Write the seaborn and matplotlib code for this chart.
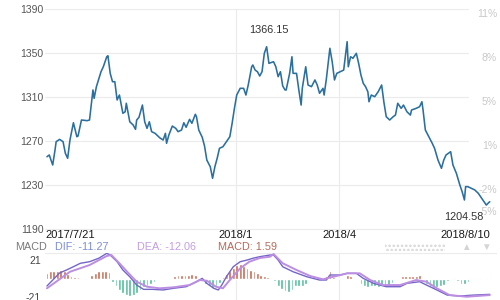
import numpy as np
import pandas as pd
import matplotlib
matplotlib.use("Agg")
import matplotlib.pyplot as plt
import seaborn as sns
from matplotlib.transforms import blended_transform_factory
from matplotlib.patches import Rectangle

# ---------------- data ----------------
start_date = "2017-07-21"

price_day = [0, 2, 5, 7, 8, 11, 14, 16, 18, 20, 23, 26, 27, 30, 35, 37, 40, 41, 43, 47,
             49, 52, 53, 55, 57, 59, 61, 63, 66, 68, 69, 72, 75, 77, 78, 80, 83, 85, 87, 89,
             91, 94, 97, 98, 101, 103, 104, 106, 109, 112, 114, 117, 119, 121, 124, 126, 129, 130, 132, 135,
             137, 139, 142, 144, 146, 148, 150, 153, 156, 159, 161, 163, 165, 168, 171, 173, 175, 178, 179, 181,
             183, 185, 187, 189, 191, 193, 197, 199, 201, 203, 205, 207, 208, 211, 213, 214, 217, 219, 221, 222,
             225, 227, 230, 233, 235, 237, 240, 241, 243, 246, 248, 250, 252, 255, 258, 260, 261, 262, 264, 266,
             269, 271, 273, 275, 277, 279, 280, 282, 285, 288, 291, 293, 295, 298, 301, 303, 305, 308, 310, 313,
             316, 317, 321, 324, 326, 327, 329, 332, 335, 337, 340, 343, 345, 347, 349, 351, 353, 356, 359, 361,
             363, 364, 366, 369, 372, 375, 378, 380, 382, 384, 385]
price = [1255.7, 1257.3, 1248.2, 1261.8, 1269.4, 1271.5, 1269.4, 1258.8, 1254.3, 1270.9,
         1286.6, 1273.9, 1274.5, 1289.1, 1288.5, 1289.1, 1316.4, 1308.8, 1319.4, 1333.0,
         1337.5, 1346.6, 1347.5, 1331.5, 1323.9, 1323.9, 1307.3, 1311.8, 1295.2, 1296.6,
         1304.3, 1287.5, 1284.5, 1280.6, 1289.1, 1291.5, 1302.7, 1287.5, 1281.5, 1287.5,
         1278.5, 1277.0, 1273.9, 1273.0, 1270.9, 1277.0, 1267.9, 1275.5, 1283.6, 1281.5,
         1278.5, 1280.0, 1286.6, 1282.5, 1289.7, 1286.1, 1294.3, 1292.1, 1280.0, 1273.4,
         1265.5, 1252.7, 1246.6, 1236.1, 1246.6, 1254.3, 1263.4, 1264.8, 1269.4, 1273.9,
         1286.1, 1299.7, 1311.8, 1317.9, 1317.9, 1311.8, 1320.9, 1337.5, 1339.1, 1334.5,
         1333.0, 1329.1, 1333.0, 1349.7, 1355.7, 1340.6, 1342.1, 1337.5, 1328.5, 1333.0,
         1320.0, 1316.4, 1316.4, 1331.5, 1346.6, 1331.5, 1331.5, 1316.4, 1302.7, 1317.9,
         1337.5, 1320.9, 1319.4, 1325.5, 1320.9, 1313.4, 1317.9, 1311.8, 1327.0, 1354.3,
         1342.1, 1325.5, 1331.5, 1333.0, 1334.5, 1351.2, 1360.3, 1337.5, 1346.6, 1345.2,
         1349.7, 1340.6, 1330.0, 1322.5, 1319.4, 1314.8, 1305.7, 1311.8, 1310.3, 1314.8,
         1320.9, 1305.0, 1292.1, 1289.1, 1292.1, 1293.6, 1304.3, 1299.7, 1302.7, 1296.6,
         1293.6, 1298.2, 1299.7, 1301.2, 1305.7, 1298.2, 1280.0, 1273.9, 1267.9, 1263.4,
         1252.7, 1245.2, 1252.7, 1257.3, 1258.8, 1260.3, 1248.2, 1240.6, 1230.0, 1223.9,
         1216.4, 1228.5, 1228.5, 1227.0, 1225.5, 1222.5, 1217.9, 1214.8, 1211.8, 1213.9, 1214.8]

dif_day = [0, 11, 17, 23, 29, 37, 45, 52, 55, 61, 66, 72, 78, 84, 92, 101, 110, 121, 130, 135,
           139, 145, 149, 152, 156, 162, 168, 174, 179, 185, 194, 197, 201, 205, 214, 226, 237, 243, 246, 255,
           261, 269, 275, 284, 295, 307, 313, 324, 330, 339, 348, 359, 371, 385]
dif = [-8.5, 6.3, 9.7, 13.4, 17.3, 19.1, 23.0, 28.6, 26.7, 19.1, 9.7, 2.0, -7.4, -12.3, -12.3, -13.0,
       -11.1, -9.3, -3.6, 0.2, -5.5, -11.1, -13.0, -7.4, 2.0, 13.4, 19.1, 21.0, 23.0, 24.8, 26.7, 26.7,
       21.0, 13.4, 7.7, 2.0, -1.7, -1.7, 4.0, 4.0, 5.9, 5.9, 0.2, -5.5, -9.3, -9.3, -5.5, -3.6, -7.4,
       -13.0, -18.8, -19.9, -18.8, -18.0]

dea_day = [0, 20, 37, 52, 56, 63, 71, 78, 87, 98, 110, 124, 133, 139, 147, 153, 159, 168, 176, 185,
           194, 197, 205, 217, 229, 240, 249, 261, 272, 281, 292, 307, 321, 330, 339, 350, 365, 385]
dea = [-11.1, 7.7, 15.3, 25.6, 26.7, 17.3, 5.9, -3.6, -9.3, -11.1, -10.0, -7.4, -1.7, -2.5, -9.3,
       -11.1, -1.7, 11.6, 19.1, 23.3, 24.8, 27.8, 17.3, 9.7, 2.8, -0.9, 2.0, 5.9, 5.9, -1.7, -7.4,
       -7.4, -1.7, -3.6, -11.1, -18.8, -20.7, -18.8]

hist = [6, 8, 9, 8, 10, 9, 5, 3, 2, 2, 1, 1, 1, 4, 6, 8, 8, 9, 7,
        -4, -9, -13, -16, -19, -20, -19, -17, -13, -10, -8, -6, -4, -2, -1, -1, -1, 0,
        3, 4, 4, 4, 4, 5, 4, 1, -2, -6, -9, -11, -9, -5,
        2, 5, 9, 12, 15, 16, 14, 12, 10, 8, 6, 4, 3, 2, 1,
        -3, -8, -12, -14, -15, -13, -9, -8, -9, -6, -2, -1, -1, 0, 0,
        3, 8, 2, 1, 1, 1, 4, 3, 1,
        -2, -6, -9, -10, -8, -9, -10, -8, -9, -7, -5, -2,
        1, 3, 3, 3, 3, 3, 4, 1,
        -6, -10, -11, -10, -9, -7, -3, 1, 1, -3, -6, -6, -4,
        1, 0, 1, 0, 1, 1]
hist_day = list(range(0, 3 * len(hist), 3))

y_ticks = [1190, 1230, 1270, 1310, 1350, 1390]
pct_labels = ["11%", "8%", "5%", "1%", "-2%", "-5%"]
pct_levels = [1390, 1350, 1310, 1270, 1230, 1210]
date_labels = ["2017/7/21", "2018/1", "2018/4", "2018/8/10"]
date_values = ["2017-07-21", "2018-01-01", "2018-04-01", "2018-08-10"]
max_label, min_label = "1366.15", "1204.58"
dif_text, dea_text, macd_text = "DIF: -11.27", "DEA: -12.06", "MACD: 1.59"

# ---------------- style ----------------
sns.set_theme(style="white")
plt.rcParams["font.family"] = ["Liberation Sans", "DejaVu Sans"]
plt.rcParams["hatch.linewidth"] = 1.2

W, H = 500, 300
fig = plt.figure(figsize=(5, 3), dpi=100)
fig.patch.set_facecolor("white")

def fx(px):
    return px / W

def fy(py):
    return 1 - py / H

ax = fig.add_axes([fx(45), fy(232), fx(497) - fx(45), fy(9) - fy(232)])
ax2 = fig.add_axes([fx(45), 0.0, fx(497) - fx(45), fy(253)])

start = pd.Timestamp(start_date)
date_days = [(pd.Timestamp(d) - start).days for d in date_values]
xlim = (-1.7, 391.3)

grid_c = "#ebebeb"
# ----- main panel -----
for v in y_ticks:
    ax.axhline(v, xmin=0, xmax=0.935, color=grid_c, lw=0.8, zorder=0)
for d in date_days[1:3]:
    ax.axvline(d, color=grid_c, lw=0.8, zorder=0)
    ax2.axvline(d, color=grid_c, lw=0.8, zorder=0)

sns.lineplot(x=price_day, y=price, ax=ax, color="#2a6f9e", lw=1.15, zorder=3)
ax.set_xlim(*xlim)
ax.set_ylim(1187.3, 1390)
ax.set_yticks(y_ticks)
ax.set_yticklabels([str(v) for v in y_ticks])
ax.set_xticks([])
ax.tick_params(axis="y", length=0, pad=1, labelsize=7.5, labelcolor="#555555")
for s in ax.spines.values():
    s.set_visible(False)
ax.set_xlabel("")
ax.set_ylabel("")

# right percentage labels
for lab, lv in zip(pct_labels, pct_levels):
    ax.text(1.0, lv, lab, transform=blended_transform_factory(ax.transAxes, ax.transData),
            ha="right", va="top", fontsize=7.5, color="#c9c9c9", zorder=1)

# max/min annotations
fig.text(fx(268.5), fy(30), max_label, ha="center", va="center", fontsize=7.8, color="#333333")
fig.text(fx(464), fy(217), min_label, ha="center", va="center", fontsize=7.8, color="#333333",
         bbox=dict(facecolor="white", edgecolor="none", pad=0.5), zorder=5)

# date labels
trans_d = blended_transform_factory(ax.transData, fig.transFigure)
for lab, d, ha in zip(date_labels, date_days, ["left", "center", "center", "right"]):
    ax.text(d + (-1.2 if ha == "left" else 0), fy(235), lab, transform=trans_d, ha=ha, va="center",
            fontsize=8, color="#1a1a1a")

# MACD legend row
fig.text(fx(15), fy(247), "MACD", ha="left", va="center", fontsize=7.8, color="#7a7a7a")
fig.text(fx(55), fy(247), dif_text, ha="left", va="center", fontsize=7.8, color="#7f8fd3")
fig.text(fx(137), fy(247), dea_text, ha="left", va="center", fontsize=7.8, color="#c49ee0")
fig.text(fx(218), fy(247), macd_text, ha="left", va="center", fontsize=7.8, color="#b36c5c")
fig.patches.append(Rectangle((fx(385), fy(251)), fx(60), 7 / H, transform=fig.transFigure,
                             facecolor="none", edgecolor="#d6d6d6", hatch="....", lw=0))
fig.text(fx(466), fy(247), "▲", ha="center", va="center", fontsize=7, color="#d4d4d4")
fig.text(fx(486), fy(247), "▼", ha="center", va="center", fontsize=7, color="#d4d4d4")

# ----- MACD panel -----
hdf = pd.DataFrame({"day": hist_day, "val": hist})
hdf["sign"] = np.where(hdf["val"] >= 0, "up", "down")
sns.barplot(data=hdf, x="day", y="val", hue="sign", native_scale=True, dodge=False,
            palette={"up": "#c46a52", "down": "#4fbb98"}, width=0.8, saturation=1,
            errorbar=None, legend=False, ax=ax2, zorder=2)
sns.lineplot(x=dif_day, y=dif, ax=ax2, color="#7565c8", lw=1.0, zorder=3)
sns.lineplot(x=dea_day, y=dea, ax=ax2, color="#bb8ee2", lw=1.4, zorder=3)
ax2.axhline(29, color=grid_c, lw=0.8, zorder=0)
ax2.set_xlim(*xlim)
ax2.set_ylim(-24.4, 29)
ax2.set_yticks([21, -21])
ax2.set_yticklabels(["21", "-21"])
ax2.set_xticks([])
ax2.tick_params(axis="y", length=0, pad=3, labelsize=7.5, labelcolor="#444444")
for s in ax2.spines.values():
    s.set_visible(False)
ax2.set_xlabel("")
ax2.set_ylabel("")

fig.savefig("out.png", dpi=100, facecolor="white")
